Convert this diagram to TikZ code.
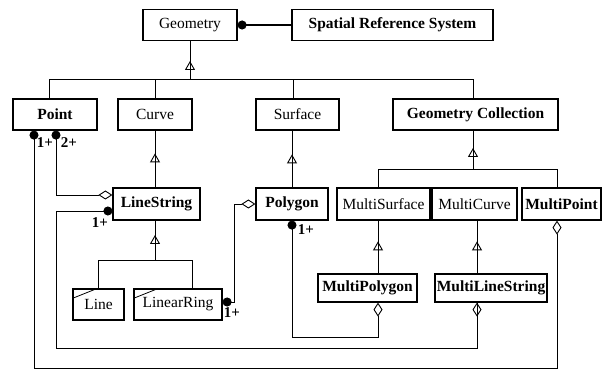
\documentclass[tikz,border=0pt]{standalone}
\usepackage{fontspec}
\setmainfont{Liberation Serif}
\usetikzlibrary{arrows.meta,decorations.markings}

\begin{document}
\begin{tikzpicture}[x=1pt,y=-1pt,
  cls/.style={draw, line width=1.2pt, inner sep=0pt, minimum height=31pt,
              font=\fontsize{15.5}{18}\selectfont},
  bcls/.style={cls, font=\fontsize{15.5}{18}\selectfont\bfseries},
  link/.style={line width=0.9pt},
  gen/.style={link, postaction={decorate},
    decoration={markings, mark=at position #1 with
      {\arrow{Triangle[open, length=9pt, width=10pt, line width=0.9pt]}}}},
  tipdot/.tip={Circle[length=9pt]},
  tipdia/.tip={Diamond[open, length=14pt, width=9pt, line width=0.9pt]},
  mult/.style={font=\fontsize{15}{17}\selectfont\bfseries, inner sep=0pt},
  fold/.pic={\draw[line width=0.8pt] (0,10) -- (25,0);}
]
\useasboundingbox (0,0) rectangle (608,371);

% classes
\node[cls, minimum width=94pt]  (geom)  at (190,25)    {Geometry};
\node[bcls, minimum width=201pt] (srs)  at (392.5,25)  {Spatial Reference System};
\node[bcls, minimum width=84pt] (point) at (55,114.5)  {Point};
\node[cls, minimum width=74pt]  (curve) at (155,114.5) {Curve};
\node[cls, minimum width=83pt]  (surf)  at (297.5,114.5) {Surface};
\node[bcls, minimum width=165pt] (gcol) at (475.5,114.5) {Geometry Collection};
\node[bcls, minimum width=87pt, minimum height=32pt] (lstr) at (156.5,204) {LineString};
\node[bcls, minimum width=72pt, minimum height=32pt] (poly) at (292,204) {Polygon};
\node[cls, minimum width=93pt, minimum height=32pt] (msurf) at (383.5,204) {MultiSurface};
\node[cls, minimum width=85pt, minimum height=32pt] (mcurve) at (474.5,204) {MultiCurve};
\node[bcls, minimum width=79pt, minimum height=32pt] (mpoint) at (561.5,204) {MultiPoint};
\node[cls, minimum width=51pt]  (line)  at (98.5,304.5) {Line};
\node[cls, minimum width=88pt]  (lring) at (178,304.5)  {LinearRing};
\node[bcls, minimum width=99pt, minimum height=28pt] (mpoly) at (367.5,288) {MultiPolygon};
\node[bcls, minimum width=112pt, minimum height=28pt] (mls) at (491,288) {MultiLineString};

% folded corners of the two leaf classes
\pic at (line.north west)  {fold};
\pic at (lring.north west) {fold};

% geometry -- spatial reference system
\draw[{Circle[length=9pt]}-, line width=1.5pt] (geom.east) -- (srs.west);

% generalisation of Geometry
\coordinate (busA) at (190,79);
\draw[gen=18pt] (busA) -- (geom.south);
\draw[link] ([xshift=-6pt]point.north) |- (busA);
\draw[link] (busA) -| ([xshift=-2.5pt]gcol.north);
\draw[link] (curve.north) -- (curve.north |- busA);
\draw[link] ([xshift=-4.5pt]surf.north) -- ([xshift=-4.5pt]surf.north |- busA);

% Curve / Surface specialisations
\draw[gen=34pt] ([xshift=-1.5pt]lstr.north) -- ([xshift=-1.5pt]lstr.north |- curve.south);
\draw[gen=33pt] (poly.north) -- (poly.north |- surf.south);

% generalisation of Geometry Collection
\coordinate (busB) at (473,169);
\draw[gen=21pt] (busB) -- (busB |- gcol.south);
\draw[link] ([xshift=-5.5pt]msurf.north) |- (busB);
\draw[link] (busB) -| ([xshift=-4.5pt]mpoint.north);

% LineString specialisations
\coordinate (busC) at (155,260);
\draw[gen=25pt] (busC) -- (busC |- lstr.south);
\draw[link] (line.north) |- (busC);
\draw[link] (busC) -| ([xshift=14pt]lring.north);

% Multi* specialisations
\coordinate (msB) at ([xshift=-5.5pt]msurf.south);
\draw[gen=32pt] (msB |- mpoly.north) -- (msB);
\coordinate (mcB) at ([xshift=2.5pt]mcurve.south);
\draw[gen=32pt] (mcB |- mls.north) -- (mcB);

% aggregations
\coordinate (pL)   at ([xshift=-21pt]point.south);
\coordinate (pR)   at ([xshift=1pt]point.south);
\coordinate (lsA)  at ([yshift=9pt]lstr.west);
\coordinate (lsB)  at ([yshift=-7pt]lstr.west);
\coordinate (mpS)  at ([xshift=-4.5pt]mpoint.south);
\coordinate (mlsS) at ([xshift=-14pt]mls.south);
\coordinate (mpoS) at ([xshift=10.5pt]mpoly.south);
\coordinate (lrE)  at ([yshift=2.5pt]lring.east);
\coordinate (low1) at (0,337);
\coordinate (low2) at (0,348);
\coordinate (low3) at (0,368);
\coordinate (jog)  at (234,0);

\draw[link, tipdot-tipdia] (pL) -- (pL |- low3) -| (mpS);
\draw[link, tipdot-tipdia] (pR) |- (lsA);
\draw[link, tipdot-] (lsB) -| (pR |- low2) -| (mlsS);
\draw[link, -tipdia] (pR |- low2) -| (mlsS);
\draw[link, tipdot-tipdia] (lrE) -- (lrE -| jog) |- (poly.west);
\draw[link, tipdot-tipdia] (poly.south) -- (poly.south |- low1) -| (mpoS);

% multiplicities
\node[mult] (m1) at (45,143)  {1+};
\node[mult] (m2) at (69,143)  {2+};
\node[mult] (m3) at (100,223) {1+};
\node[mult] (m4) at (232,313) {1+};
\node[mult] (m5) at (306,230) {1+};
\end{tikzpicture}
\end{document}
